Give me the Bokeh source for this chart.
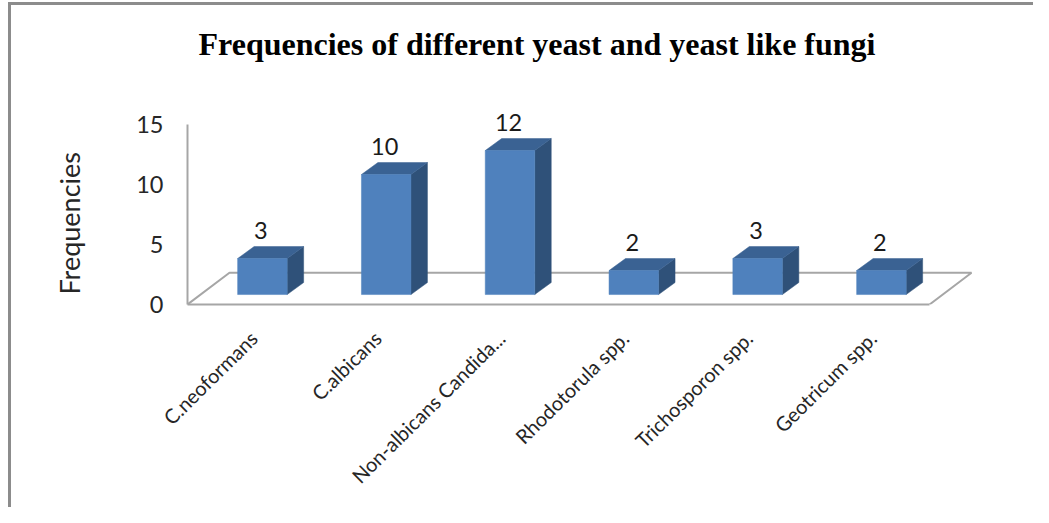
from bokeh.plotting import figure
from bokeh.models import Range1d, FixedTicker, Title
from bokeh.embed import file_html
from bokeh.resources import INLINE
from bokeh.core.properties import value

categories = ["C.neoformans", "C.albicans", "Non-albicans Candida...", "Rhodotorula spp.", "Trichosporon spp.", "Geotricum spp."]
frequencies = [3, 10, 12, 2, 3, 2]
y_ticks = [0, 5, 10, 15]
title_text = "Frequencies of different yeast and yeast like fungi"
y_title = "Frequencies"

FRONT, TOP, SIDE = "#4f81bd", "#3a6293", "#2f5179"
GREY = "#a6a6a6"
FONT = "Lato"
BORDER = "#8c8c8c"

half = 0.2              # half bar width, category units
base = 0.83             # bar base above floor front edge, value units
dx, dy = 0.133, 1.0     # bar depth
fx, fy = 0.339, 2.64    # floor depth
xs, xe = -0.605, 5.76
floor_right = 5.389
label_shift = 0.07      # rotated labels end a little left of the bar centre

p = figure(width=1033, height=507, output_backend="svg", toolbar_location=None,
           x_range=Range1d(xs, xe), y_range=Range1d(0, 18),
           min_border_left=187, min_border_right=58, min_border_top=88, min_border_bottom=203,
           outline_line_color=None, background_fill_color="white", border_fill_color=None)
p.grid.visible = False

# chart-area border: top and left edges only
p.styles = {"background": f"linear-gradient({BORDER},{BORDER}) 8px 2px/3px 100% no-repeat, "
                          f"linear-gradient({BORDER},{BORDER}) 8px 2px/100% 3px no-repeat, white"}

t = Title(text=title_text, align="left", offset=11, text_font="Liberation Serif", text_font_size="32px",
          text_font_style="bold", text_color="#000000", standoff=49, vertical_align="top")
p.add_layout(t, "above")

# floor
p.line([xs, xs + fx, floor_right + fx, floor_right], [0, fy, fy, 0], line_color=GREY, line_width=2)

idx = list(range(len(categories)))
for i, v in zip(idx, frequencies):
    l, r, b, tp = i - half, i + half, base, base + v
    p.patch([r, r + dx, r + dx, r], [b, b + dy, tp + dy, tp], fill_color=SIDE, line_color=SIDE, line_width=0.5)
    p.patch([l, l + dx, r + dx, r], [tp, tp + dy, tp + dy, tp], fill_color=TOP, line_color=TOP, line_width=0.5)
    p.quad(left=l, right=r, bottom=b, top=tp, fill_color=FRONT, line_color=FRONT, line_width=0.5)

p.text(x=[i - 0.012 for i in idx], y=[v + base + 2.35 for v in frequencies], text=[str(v) for v in frequencies],
       text_font=value(FONT), text_font_size="23.5px", text_align="center", text_baseline="middle", text_color="#1a1a1a")

tick_pos = [i - label_shift for i in idx]
xa = p.xaxis[0]
xa.ticker = FixedTicker(ticks=tick_pos)
xa.major_label_overrides = {t_: c for t_, c in zip(tick_pos, categories)}
xa.major_label_orientation = 0.78
xa.major_label_text_font = FONT
xa.major_label_text_font_size = "20px"
xa.major_label_text_color = "#262626"
xa.major_label_standoff = 24
xa.major_tick_line_color = None
xa.minor_tick_line_color = None
xa.axis_line_color = GREY
xa.axis_line_width = 2
xa.bounds = (xs, floor_right)

ya = p.yaxis[0]
ya.ticker = FixedTicker(ticks=y_ticks)
ya.major_label_text_font = FONT
ya.major_label_text_font_size = "23.5px"
ya.major_label_text_color = "#262626"
ya.major_label_standoff = 18
ya.major_tick_line_color = None
ya.minor_tick_line_color = None
ya.axis_line_color = GREY
ya.axis_line_width = 2
ya.bounds = (0, 15)

yt = Title(text=y_title, align="left", offset=10, text_font=FONT, text_font_size="27px",
           text_font_style="normal", text_color="#262626", standoff=96)
p.add_layout(yt, "left")

open("out.html", "w").write(file_html(p, INLINE))
